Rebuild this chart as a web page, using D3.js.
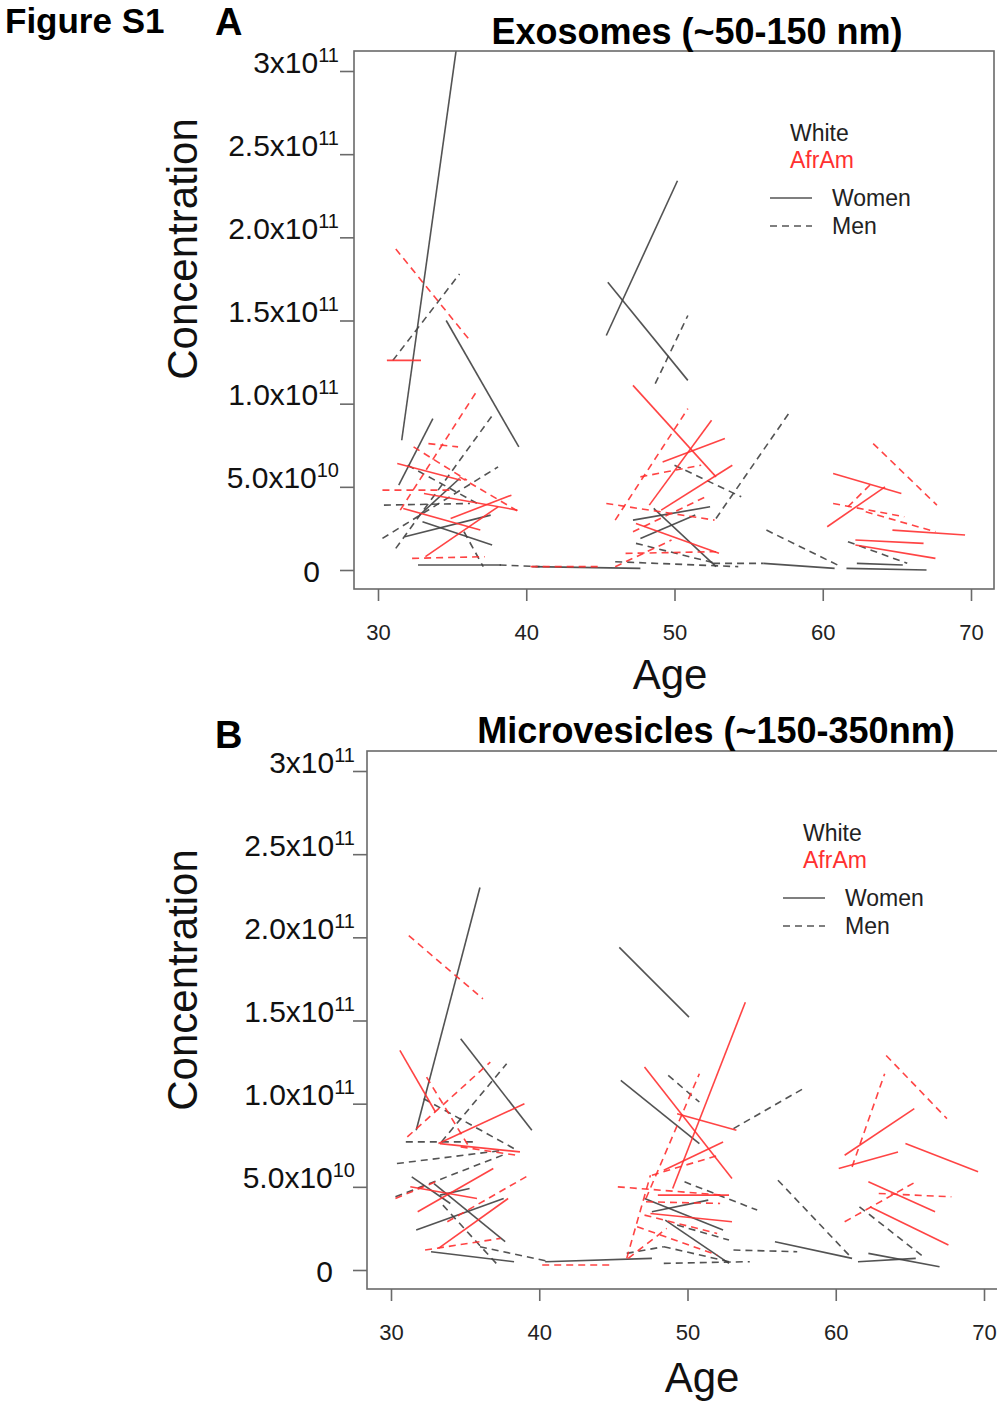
<!DOCTYPE html>
<html>
<head>
<meta charset="utf-8">
<script src="https://cdn.jsdelivr.net/npm/d3@7"></script>
<style>
  body { margin: 0; background: #fff; }
  svg { display: block; font-family: "Liberation Sans", Arial, Helvetica, sans-serif; }
</style>
</head>
<body>
<svg id="fig" width="997" height="1401"></svg>
<script>
// each segment: [age at visit 1, conc at visit 1, age at visit 2, conc at visit 2], conc in 1e10 particles
const ageTicks = [30, 40, 50, 60, 70];
const concTicks = [0, 5, 10, 15, 20, 25, 30];
const concBase = ["0", "5.0x10", "1.0x10", "1.5x10", "2.0x10", "2.5x10", "3x10"];
const concExp = ["", "10", "11", "11", "11", "11", "11"];

// panel A: exosomes
const exoWhiteWomen = [
    [31.6, 7.8, 36.0, 35.9], [34.6, 15.0, 39.5, 7.4], [31.4, 5.1, 33.7, 9.1],
    [45.4, 14.1, 50.2, 23.4], [45.5, 17.3, 50.9, 11.4], [47.2, 3.0, 52.4, 3.8],
    [48.6, 3.7, 52.8, 0.2], [47.7, 1.9, 51.4, 3.3], [40.4, 0.2, 47.7, 0.1],
    [56.0, 0.4, 60.8, 0.1], [61.6, 0.1, 67.0, 0.0], [62.3, 0.4, 65.4, 0.3],
    [31.8, 2.0, 37.6, 3.3], [33.0, 2.9, 37.7, 1.5], [32.8, 3.3, 35.5, 5.5],
    [32.7, 0.3, 38.3, 0.3]
];
const exoWhiteMen = [
    [31.0, 12.6, 35.5, 17.8], [48.7, 11.2, 50.9, 15.3], [50.0, 6.3, 54.5, 4.4],
    [52.8, 3.1, 57.7, 9.4], [47.4, 1.6, 52.8, 0.4], [46.0, 0.5, 54.3, 0.2],
    [52.6, 0.4, 56.0, 0.4], [56.2, 2.4, 61.0, 0.3], [61.7, 1.7, 65.7, 0.4],
    [31.2, 1.3, 37.8, 9.4], [30.3, 1.9, 38.1, 6.2], [30.4, 3.9, 36.2, 4.0],
    [32.0, 6.3, 36.7, 4.0], [35.8, 2.3, 37.1, 0.2], [38.2, 0.3, 40.9, 0.2]
];
const exoAfrWomen = [
    [30.6, 12.6, 32.9, 12.6], [47.2, 11.1, 52.8, 5.6], [48.3, 3.9, 52.5, 9.0],
    [49.2, 6.5, 53.4, 7.9], [49.1, 3.6, 53.9, 6.3], [47.4, 2.8, 53.0, 1.0],
    [60.7, 5.8, 65.3, 4.6], [60.3, 2.6, 64.2, 5.0], [64.7, 2.4, 69.6, 2.1],
    [62.2, 1.8, 66.8, 1.6], [62.2, 1.5, 67.6, 0.7], [31.3, 6.4, 35.6, 5.4],
    [33.1, 4.6, 39.4, 3.6], [34.9, 3.1, 39.0, 4.5], [31.7, 3.7, 36.9, 2.4],
    [33.2, 0.8, 38.1, 3.8]
];
const exoAfrMen = [
    [31.2, 19.3, 36.2, 13.8], [31.5, 3.6, 36.7, 10.8], [33.4, 7.6, 35.4, 7.4],
    [32.4, 7.4, 36.0, 5.4], [30.3, 4.8, 34.9, 4.8], [35.5, 5.6, 39.5, 3.5],
    [32.3, 0.7, 37.2, 0.8], [40.3, 0.2, 45.0, 0.2], [46.0, 3.0, 50.9, 9.7],
    [47.7, 5.6, 51.8, 6.3], [45.4, 4.0, 52.7, 3.0], [47.2, 2.3, 52.1, 4.4],
    [46.7, 1.0, 52.8, 1.1], [46.0, 0.2, 49.8, 1.8], [63.4, 7.6, 67.7, 3.9],
    [60.7, 4.0, 65.5, 3.2], [61.7, 3.8, 63.4, 5.3], [62.9, 3.5, 67.6, 2.3]
];

// panel B: microvesicles
const mvWhiteWomen = [
    [31.7, 8.4, 36.0, 23.0], [34.7, 13.9, 39.5, 8.4], [45.4, 19.4, 50.1, 15.2],
    [45.5, 11.4, 50.8, 7.6], [31.4, 5.6, 34.0, 4.0], [32.9, 5.2, 37.7, 1.7],
    [31.7, 2.4, 37.6, 4.3], [33.3, 4.5, 35.3, 4.9], [32.7, 1.1, 38.3, 0.5],
    [40.4, 0.5, 47.6, 0.7], [47.1, 4.3, 52.4, 2.4], [47.6, 3.5, 51.4, 4.2],
    [48.5, 3.0, 52.8, 0.4], [55.9, 1.7, 61.1, 0.7], [61.5, 0.5, 65.4, 0.7],
    [62.2, 1.0, 67.0, 0.2]
];
const mvWhiteMen = [
    [33.4, 7.7, 37.8, 12.4], [31.0, 7.7, 35.8, 7.7], [32.2, 10.3, 38.5, 7.2],
    [30.4, 6.4, 37.6, 7.2], [30.3, 4.4, 37.8, 7.0], [33.5, 3.9, 37.2, 0.3],
    [36.0, 1.4, 40.7, 0.5], [48.7, 11.7, 50.8, 10.1], [53.1, 8.5, 57.8, 10.9],
    [49.8, 5.3, 54.7, 3.6], [49.3, 2.7, 52.8, 1.8], [45.9, 1.0, 48.4, 1.4],
    [48.4, 1.4, 52.8, 0.5], [53.1, 1.2, 57.4, 1.1], [48.4, 0.4, 54.2, 0.5],
    [56.1, 5.4, 61.1, 0.7], [61.6, 3.8, 65.9, 0.8]
];
const mvAfrWomen = [
    [30.6, 13.2, 33.0, 9.5], [33.2, 7.6, 39.0, 10.0], [33.3, 7.6, 38.7, 7.1],
    [31.8, 3.5, 36.9, 6.1], [31.3, 5.0, 35.8, 4.3], [33.2, 1.3, 37.9, 4.3],
    [49.0, 4.9, 53.9, 16.1], [47.1, 12.2, 53.0, 5.5], [49.3, 9.4, 53.3, 8.4],
    [48.4, 6.0, 52.4, 7.7], [48.0, 4.5, 52.8, 4.5], [47.5, 3.4, 53.0, 2.9],
    [60.6, 6.9, 65.3, 9.7], [60.2, 6.1, 64.2, 7.1], [64.7, 7.6, 69.6, 5.9],
    [62.2, 5.3, 66.7, 3.5], [62.3, 3.8, 67.6, 1.5]
];
const mvAfrMen = [
    [31.2, 20.1, 36.2, 16.3], [32.4, 11.6, 35.2, 7.5], [31.1, 8.0, 36.7, 12.5],
    [34.7, 7.4, 38.5, 6.9], [32.3, 1.2, 37.4, 1.9], [33.8, 2.9, 39.3, 5.7],
    [30.3, 4.3, 33.0, 5.3], [40.2, 0.3, 44.9, 0.3], [47.2, 4.3, 50.8, 11.8],
    [45.9, 0.7, 47.5, 5.7], [47.6, 5.7, 52.1, 6.9], [45.3, 5.0, 52.4, 4.5],
    [47.2, 4.1, 52.2, 4.0], [47.1, 3.3, 52.0, 2.2], [46.6, 2.6, 52.0, 0.9],
    [46.0, 0.7, 48.6, 2.5], [63.4, 12.9, 67.5, 9.1], [61.1, 6.2, 63.3, 11.8],
    [62.9, 4.6, 67.8, 4.4], [60.6, 2.9, 65.4, 5.3]
];

const BOX_W = 640;
const BOX_H = 538;
const BLACK_COR = "#404040";
const RED_COR = "#ff3030";
const AXIS_COR = "#6a6a6a";
const DASH = "7,5";

const svg = d3.select("#fig");
const x = d3.scaleLinear().domain([30, 70]).range([24, 617]);
const y = d3.scaleLinear().domain([0, 30]).range([519, 20]);

function draw_text(px, py, str, size, opts = {}) {
    return svg.append("text")
        .attr("x", px)
        .attr("y", py)
        .attr("font-size", size)
        .attr("font-weight", opts.bold ? "bold" : "normal")
        .attr("text-anchor", opts.anchor || "start")
        .attr("fill", opts.fill || "#111")
        .text(str);
}

function draw_panel(p) {
    let g = svg.append("g").attr("transform", `translate(${p.left},${p.top})`);

    g.append("clipPath").attr("id", p.id)
        .append("rect").attr("width", BOX_W).attr("height", BOX_H);

    let lines = g.append("g").attr("clip-path", `url(#${p.id})`);
    p.groups.forEach(grp => {
        lines.append("g").selectAll("line")
            .data(grp.data)
            .join("line")
            .attr("x1", d => x(d[0]))
            .attr("y1", d => y(d[1]))
            .attr("x2", d => x(d[2]))
            .attr("y2", d => y(d[3]))
            .attr("stroke", grp.color)
            .attr("stroke-width", 1.6)
            .attr("stroke-opacity", 0.9)
            .attr("stroke-dasharray", grp.dashed ? DASH : null);
    });

    g.append("rect")
        .attr("width", BOX_W)
        .attr("height", BOX_H)
        .attr("fill", "none")
        .attr("stroke", AXIS_COR)
        .attr("stroke-width", 1.6);

    // x axis
    let ax = g.append("g")
        .attr("transform", `translate(0,${BOX_H})`)
        .call(d3.axisBottom(x).tickValues(ageTicks).tickSize(12).tickPadding(23));
    ax.select(".domain").remove();
    ax.selectAll("line").attr("stroke", AXIS_COR).attr("stroke-width", 1.6);
    ax.selectAll("text").attr("font-size", 22).attr("fill", "#222")
        .attr("font-family", "Liberation Sans, Arial, sans-serif");

    // y axis with 10^n labels
    let ay = g.append("g")
        .call(d3.axisLeft(y).tickValues(concTicks).tickSize(14).tickFormat(() => ""));
    ay.select(".domain").remove();
    ay.selectAll("line").attr("stroke", AXIS_COR).attr("stroke-width", 1.6);
    ay.selectAll(".tick").each(function (d, i) {
        let t = d3.select(this).append("text")
            .attr("fill", "#111")
            .attr("text-anchor", "end")
            .attr("font-family", "Liberation Sans, Arial, sans-serif")
            .attr("x", i === 0 ? -34 : p.labelGap)
            .attr("y", i === 0 ? 11 : 1)
            .attr("dy", null);
        t.append("tspan").attr("font-size", 30).text(concBase[i]);
        if (concExp[i] !== "") {
            t.append("tspan").attr("font-size", 20).attr("dy", -11).text(concExp[i]);
        }
    });

    // legend
    let lx = p.legendX, ly = p.legendY;
    draw_text(lx, ly, "White", 23, { fill: "#222" });
    draw_text(lx, ly + 27, "AfrAm", 23, { fill: RED_COR });
    svg.append("line")
        .attr("x1", lx - 20).attr("x2", lx + 22)
        .attr("y1", ly + 57).attr("y2", ly + 57)
        .attr("stroke", "#555").attr("stroke-width", 1.5);
    svg.append("line")
        .attr("x1", lx - 20).attr("x2", lx + 22)
        .attr("y1", ly + 85).attr("y2", ly + 85)
        .attr("stroke", "#555").attr("stroke-width", 1.5)
        .attr("stroke-dasharray", DASH);
    draw_text(lx + 42, ly + 65, "Women", 23, { fill: "#222" });
    draw_text(lx + 42, ly + 93, "Men", 23, { fill: "#222" });

    // titles and axis names
    draw_text(p.titleX, p.titleY, p.title, 36, { bold: true, anchor: "middle", fill: "#000" });
    draw_text(p.ageX, p.ageY, "Age", 42, { anchor: "middle", fill: "#111" });
    svg.append("text")
        .attr("transform", `translate(197,${p.concY}) rotate(-90)`)
        .attr("text-anchor", "middle")
        .attr("font-size", 42)
        .attr("fill", "#111")
        .text("Concentration");
    draw_text(215, p.letterY, p.letter, 38, { bold: true, fill: "#000" });
}

draw_text(5, 33, "Figure S1", 35, { bold: true, fill: "#000" });

draw_panel({
    id: "clipA", left: 354, top: 51, labelGap: -15,
    letter: "A", letterY: 35,
    title: "Exosomes (~50-150 nm)", titleX: 697, titleY: 44,
    ageX: 670, ageY: 689, concY: 249,
    legendX: 790, legendY: 141,
    groups: [
        { data: exoWhiteWomen, color: BLACK_COR, dashed: false },
        { data: exoWhiteMen, color: BLACK_COR, dashed: true },
        { data: exoAfrWomen, color: RED_COR, dashed: false },
        { data: exoAfrMen, color: RED_COR, dashed: true }
    ]
});

draw_panel({
    id: "clipB", left: 367, top: 751, labelGap: -12,
    letter: "B", letterY: 748,
    title: "Microvesicles (~150-350nm)", titleX: 716, titleY: 743,
    ageX: 702, ageY: 1392, concY: 980,
    legendX: 803, legendY: 841,
    groups: [
        { data: mvWhiteWomen, color: BLACK_COR, dashed: false },
        { data: mvWhiteMen, color: BLACK_COR, dashed: true },
        { data: mvAfrWomen, color: RED_COR, dashed: false },
        { data: mvAfrMen, color: RED_COR, dashed: true }
    ]
});
</script>
</body>
</html>
